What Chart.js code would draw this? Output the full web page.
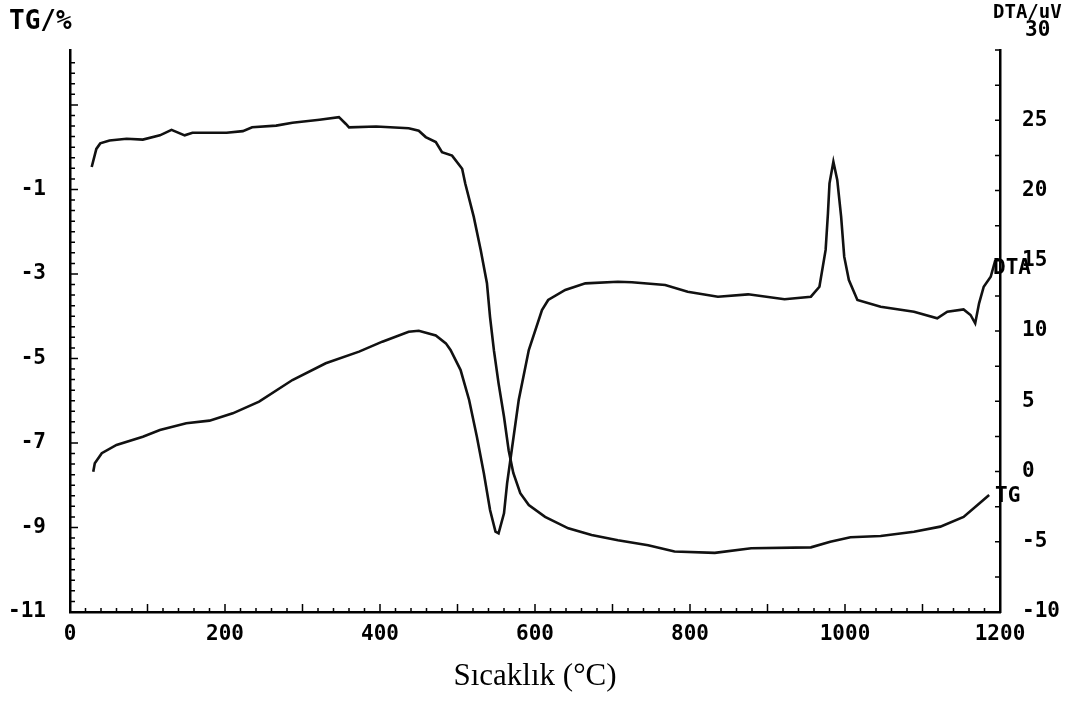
<!DOCTYPE html>
<html><head><meta charset="utf-8">
<script src="https://cdn.jsdelivr.net/npm/chart.js@4.4.0/dist/chart.umd.min.js"></script>
<style>html,body{margin:0;padding:0;background:#fff;} #wrap{width:1069px;height:702px;position:relative;}</style>
</head><body><div id="wrap"><canvas id="c" width="1069" height="702"></canvas></div>
<script>
// Temperature (°C) and TG (%) readings
const tgTemp = [28, 34, 39, 51, 73, 94, 116, 131, 148, 158, 202, 223, 235, 266, 287, 322, 347, 356, 360, 395,
  437, 450, 459, 472, 480, 493, 506, 510, 521, 530, 538, 542, 547, 553, 560, 566, 572, 581, 592, 613,
  643, 673, 707, 746, 780, 832, 879, 956, 981, 1007, 1046, 1089, 1123, 1153, 1174, 1186];
const tgValues = [-0.47, -0.04, 0.09, 0.16, 0.20, 0.18, 0.28, 0.41, 0.28, 0.34, 0.34, 0.38, 0.47, 0.51, 0.58, 0.65, 0.71, 0.55, 0.47, 0.49,
  0.45, 0.39, 0.24, 0.12, -0.12, -0.20, -0.51, -0.86, -1.65, -2.44, -3.22, -4.02, -4.81, -5.59, -6.38, -7.17, -7.71, -8.19, -8.47, -8.75,
  -9.02, -9.18, -9.30, -9.42, -9.57, -9.60, -9.49, -9.47, -9.34, -9.23, -9.20, -9.10, -8.98, -8.75, -8.42, -8.23];

// Temperature (°C) and DTA (uV) readings
const dtaTemp = [30, 32, 41, 60, 94, 116, 150, 180, 210, 244, 287, 330, 373, 403, 437, 450, 472, 485, 491, 504,
  515, 525, 534, 542, 549, 553, 560, 564, 570, 579, 592, 609, 617, 639, 665, 707, 725, 768, 797, 836,
  875, 922, 956, 967, 975, 978, 980, 985, 990, 995, 999, 1005, 1016, 1046, 1089, 1119, 1132, 1153, 1162, 1168,
  1173, 1179, 1188, 1194];
const dtaValues = [-0.01, 0.58, 1.30, 1.89, 2.48, 2.95, 3.43, 3.62, 4.14, 4.97, 6.51, 7.70, 8.53, 9.24, 9.95, 10.02, 9.68, 9.12, 8.65, 7.22,
  5.09, 2.48, -0.13, -2.74, -4.28, -4.40, -2.98, -0.84, 1.53, 5.09, 8.65, 11.49, 12.21, 12.92, 13.39, 13.51, 13.47, 13.27, 12.80, 12.44,
  12.61, 12.26, 12.44, 13.15, 15.77, 18.38, 20.51, 22.05, 20.75, 18.14, 15.29, 13.63, 12.21, 11.73, 11.37, 10.90, 11.37, 11.54, 11.14, 10.55,
  11.97, 13.15, 13.86, 15.05];

const xTicks = [0, 200, 400, 600, 800, 1000, 1200];
const tgTicks = [-11, -9, -7, -5, -3, -1];
const dtaTicks = [-10, -5, 0, 5, 10, 15, 20, 25, 30];

const tgData = tgTemp.map((t, i) => ({x: t, y: tgValues[i]}));
const dtaData = dtaTemp.map((t, i) => ({x: t, y: dtaValues[i]}));

const monoFont = {family: '"DejaVu Sans Mono"', weight: 'bold', size: 21};

const decor = {
  id: 'decor',
  afterDraw(chart) {
    const ctx = chart.ctx;
    const xs = chart.scales.x, yT = chart.scales.yTG, yD = chart.scales.yDTA;
    ctx.save();
    ctx.strokeStyle = '#000';
    ctx.lineWidth = 1.5;
    ctx.beginPath();
    for (let v = 0; v <= 1200; v += 20) {
      const px = xs.getPixelForValue(v);
      const len = v % 100 === 0 ? 8 : 4;
      ctx.moveTo(px, xs.top); ctx.lineTo(px, xs.top - len);
    }
    for (let v = -11; v <= 2.2; v += 0.25) {
      const py = yT.getPixelForValue(v);
      const len = Math.abs(v % 2) === 1 ? 8 : 5;
      ctx.moveTo(yT.right, py); ctx.lineTo(yT.right + len, py);
    }
    for (let v = -10; v <= 30; v += 2.5) {
      const py = yD.getPixelForValue(v);
      ctx.moveTo(yD.left, py); ctx.lineTo(yD.left - 5, py);
    }
    ctx.stroke();

    ctx.fillStyle = '#000';
    ctx.textBaseline = 'middle';
    ctx.textAlign = 'left';
    ctx.font = 'bold 26px "DejaVu Sans Mono"';
    ctx.fillText('TG/%', 9, 22);
    ctx.font = 'bold 19px "DejaVu Sans Mono"';
    ctx.fillText('DTA/uV', 993, 13);
    ctx.font = 'bold 21px "DejaVu Sans Mono"';
    ctx.fillText('30', yD.left + 25, 31);
    // curve end labels
    const tgEndY = yT.getPixelForValue(tgValues[tgValues.length - 1]);
    ctx.fillText('TG', yD.left - 5, tgEndY + 2);
    const dtaEndY = yD.getPixelForValue(dtaValues[dtaValues.length - 1]);
    ctx.fillText('DTA', yD.left - 7, dtaEndY + 8);
    ctx.restore();
  }
};

new Chart(document.getElementById('c'), {
  type: 'line',
  data: {
    datasets: [
      {label: 'TG', data: tgData, yAxisID: 'yTG', borderColor: '#111', borderWidth: 2.6, pointRadius: 0, tension: 0, fill: false},
      {label: 'DTA', data: dtaData, yAxisID: 'yDTA', borderColor: '#111', borderWidth: 2.6, pointRadius: 0, tension: 0, fill: false}
    ]
  },
  options: {
    responsive: false,
    devicePixelRatio: 1,
    animation: false,
    layout: {padding: {top: 50, left: 0, right: 0, bottom: 0}},
    plugins: {legend: {display: false}, tooltip: {enabled: false}},
    scales: {
      x: {
        type: 'linear', position: 'bottom', min: 0, max: 1200,
        afterBuildTicks: s => { s.ticks = xTicks.map(v => ({value: v})); },
        afterFit: s => { s.height = 90; },
        grid: {display: false, drawTicks: false},
        border: {display: true, color: '#000', width: 2.5},
        ticks: {font: monoFont, color: '#000', padding: 10, maxRotation: 0, autoSkip: false,
          callback: v => String(v)},
        title: {display: true, text: 'Sıcaklık (°C)', color: '#000', font: {family: '"Liberation Serif"', size: 31}, padding: {top: 4, bottom: 7}}
      },
      yTG: {
        type: 'linear', position: 'left', min: -11, max: 2.3,
        afterBuildTicks: s => { s.ticks = tgTicks.map(v => ({value: v})); },
        afterFit: s => { s.width = 70; },
        grid: {display: false, drawTicks: false},
        border: {display: true, color: '#000', width: 2.5},
        ticks: {font: monoFont, color: '#000', padding: 24, autoSkip: false, callback: v => String(v)}
      },
      yDTA: {
        type: 'linear', position: 'right', min: -10, max: 30,
        afterBuildTicks: s => { s.ticks = dtaTicks.map(v => ({value: v})); },
        afterFit: s => { s.width = 69; },
        grid: {display: false, drawTicks: false},
        border: {display: true, color: '#000', width: 2.5},
        ticks: {font: monoFont, color: '#000', padding: 22, autoSkip: false,
          callback: v => (v === 30 ? '' : String(v))}
      }
    }
  },
  plugins: [decor]
});
</script>
</body></html>
